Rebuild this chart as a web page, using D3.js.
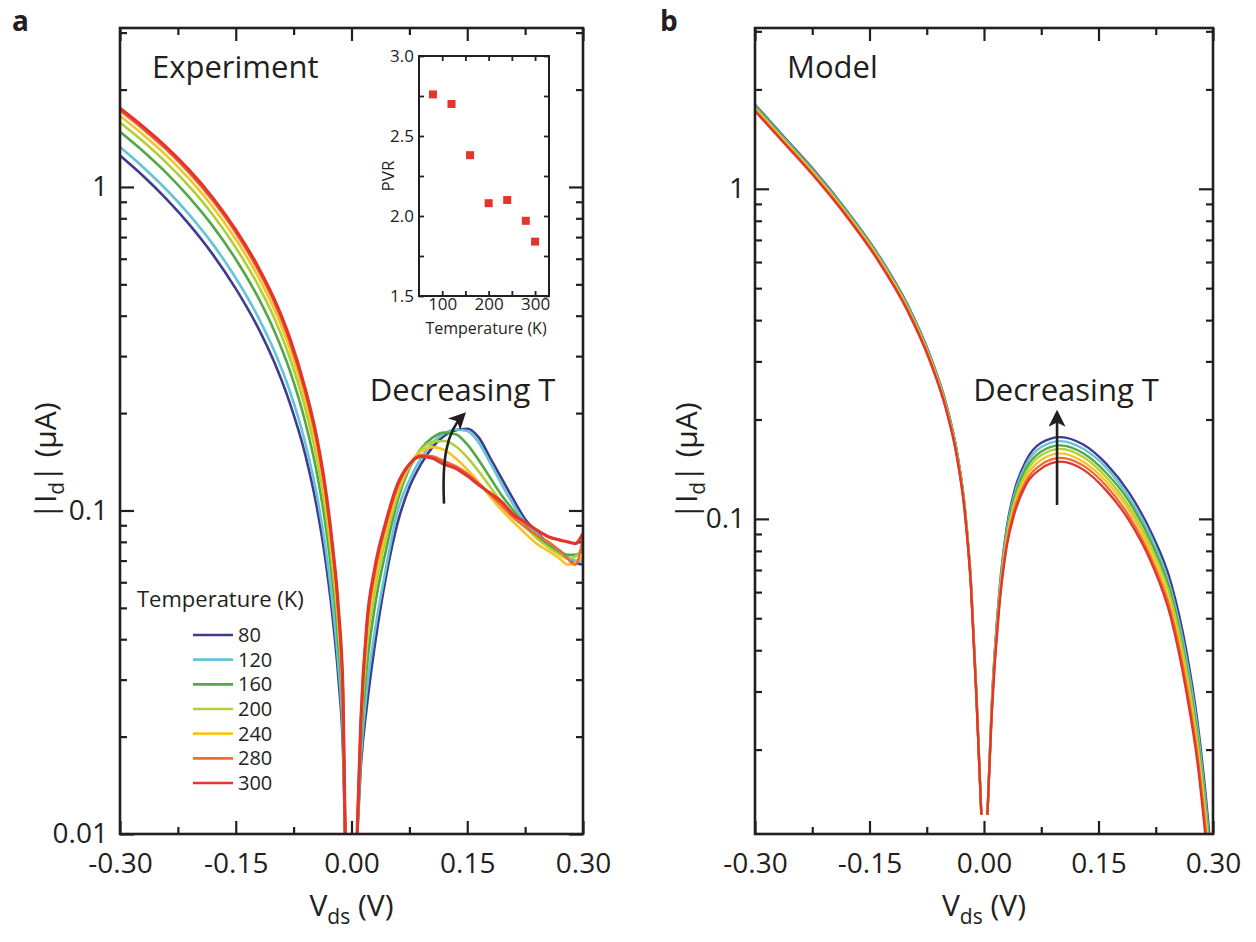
<!DOCTYPE html>
<html>
<head>
<meta charset="utf-8">
<script src="https://cdn.jsdelivr.net/npm/d3@7"></script>
<style>
    body { margin: 0; background: #fff; }
    svg text { font-family: "Open Sans", "Noto Sans", sans-serif; fill: #231f20; }
    .axis text { font-family: "Open Sans", "Noto Sans", sans-serif; font-size: 28px; fill: #231f20; }
    .axis line { stroke: #231f20; stroke-width: 2.2; }
    .inset .axis text { font-size: 17px; }
    .inset .axis line { stroke-width: 1.8; }
</style>
</head>
<body>
<svg id="chart" width="1256" height="942"></svg>
<script>
const temperatures = [80, 120, 160, 200, 240, 280, 300];
const tempColors = ['#3d3c92', '#66c4d6', '#52a845', '#afd136', '#f6c51f', '#f06a36', '#e3352b'];

// panel a (experiment), |Id| in uA, Vds < 0 branch
const expVLeft = [-0.30, -0.27, -0.24, -0.21, -0.18, -0.15, -0.12, -0.10, -0.08, -0.06, -0.045, -0.034, -0.025, -0.017, -0.011, -0.008];
const expILeft = [
    [1.25, 1.081, 0.919, 0.765, 0.62, 0.485, 0.363, 0.287, 0.215, 0.149, 0.1025, 0.071, 0.048, 0.0303, 0.0179, 0.0095],
    [1.328, 1.151, 0.982, 0.82, 0.667, 0.523, 0.392, 0.311, 0.234, 0.162, 0.112, 0.0778, 0.0526, 0.0332, 0.0193, 0.0095],
    [1.48, 1.289, 1.105, 0.927, 0.758, 0.598, 0.451, 0.359, 0.271, 0.188, 0.131, 0.0915, 0.0618, 0.0389, 0.0221, 0.0095],
    [1.582, 1.382, 1.189, 1.002, 0.822, 0.65, 0.492, 0.393, 0.297, 0.207, 0.145, 0.1013, 0.0683, 0.043, 0.0241, 0.0095],
    [1.658, 1.451, 1.252, 1.057, 0.869, 0.689, 0.523, 0.418, 0.317, 0.221, 0.155, 0.1088, 0.0733, 0.0461, 0.0256, 0.0095],
    [1.721, 1.508, 1.304, 1.103, 0.908, 0.722, 0.548, 0.439, 0.333, 0.232, 0.164, 0.115, 0.0775, 0.0488, 0.0268, 0.0095],
    [1.75, 1.535, 1.328, 1.125, 0.927, 0.737, 0.56, 0.449, 0.341, 0.238, 0.168, 0.118, 0.0795, 0.05, 0.0274, 0.0095]
];

// panel a, Vds > 0 branch
const expVRight = [0.007, 0.012, 0.02, 0.03, 0.045, 0.06, 0.075, 0.09, 0.105, 0.12, 0.135, 0.15, 0.165, 0.18, 0.195, 0.21, 0.225, 0.24, 0.255, 0.27, 0.28, 0.29, 0.30];
const expIRight = [
    [0.0095, 0.016, 0.025, 0.038, 0.063, 0.092, 0.118, 0.139, 0.157, 0.17, 0.177, 0.179, 0.168, 0.145, 0.125, 0.108, 0.094, 0.086, 0.079, 0.075, 0.072, 0.069, 0.068],
    [0.0095, 0.017, 0.028, 0.042, 0.067, 0.10, 0.124, 0.145, 0.162, 0.173, 0.178, 0.176, 0.162, 0.14, 0.12, 0.104, 0.092, 0.085, 0.079, 0.075, 0.072, 0.07, 0.07],
    [0.0095, 0.019, 0.033, 0.05, 0.076, 0.108, 0.135, 0.155, 0.168, 0.174, 0.172, 0.16, 0.143, 0.126, 0.111, 0.10, 0.09, 0.083, 0.078, 0.074, 0.073, 0.073, 0.075],
    [0.0095, 0.02, 0.038, 0.056, 0.083, 0.112, 0.137, 0.154, 0.163, 0.164, 0.158, 0.146, 0.132, 0.118, 0.106, 0.097, 0.089, 0.082, 0.077, 0.073, 0.071, 0.072, 0.077],
    [0.0095, 0.021, 0.041, 0.06, 0.087, 0.115, 0.138, 0.152, 0.157, 0.154, 0.145, 0.134, 0.122, 0.11, 0.10, 0.092, 0.085, 0.079, 0.075, 0.071, 0.068, 0.069, 0.072],
    [0.0095, 0.022, 0.044, 0.064, 0.091, 0.119, 0.139, 0.148, 0.147, 0.142, 0.137, 0.13, 0.121, 0.112, 0.103, 0.095, 0.089, 0.084, 0.08, 0.075, 0.071, 0.068, 0.082],
    [0.0095, 0.022, 0.045, 0.066, 0.093, 0.121, 0.139, 0.147, 0.145, 0.139, 0.135, 0.128, 0.12, 0.113, 0.106, 0.097, 0.092, 0.087, 0.083, 0.081, 0.08, 0.079, 0.085]
];

// panel b (model)
const modVLeft = [-0.30, -0.26, -0.22, -0.18, -0.14, -0.10, -0.07, -0.05, -0.035, -0.025, -0.017, -0.01, -0.0035];
const modILeft = [
    [1.80, 1.42, 1.12, 0.86, 0.64, 0.445, 0.31, 0.225, 0.158, 0.108, 0.064, 0.030, 0.0127],
    [1.79, 1.41, 1.113, 0.855, 0.636, 0.442, 0.308, 0.2235, 0.157, 0.1073, 0.0636, 0.0298, 0.0127],
    [1.78, 1.40, 1.105, 0.849, 0.631, 0.439, 0.306, 0.222, 0.156, 0.1066, 0.0632, 0.0296, 0.0127],
    [1.76, 1.39, 1.097, 0.843, 0.627, 0.436, 0.304, 0.2205, 0.155, 0.1059, 0.0628, 0.0294, 0.0127],
    [1.75, 1.38, 1.089, 0.837, 0.622, 0.433, 0.302, 0.219, 0.154, 0.1052, 0.0624, 0.0292, 0.0127],
    [1.73, 1.37, 1.08, 0.83, 0.617, 0.429, 0.299, 0.217, 0.1525, 0.1043, 0.062, 0.029, 0.0127],
    [1.72, 1.36, 1.072, 0.824, 0.612, 0.426, 0.297, 0.2155, 0.1515, 0.1036, 0.0616, 0.0288, 0.0127]
];
const modVRight = [0.0045, 0.01, 0.02, 0.03, 0.04, 0.055, 0.075, 0.10, 0.13, 0.16, 0.19, 0.22, 0.245, 0.265, 0.28, 0.29, 0.30];
const modIRight = [
    [0.0127, 0.027, 0.060, 0.095, 0.122, 0.150, 0.170, 0.177, 0.168, 0.147, 0.120, 0.090, 0.064, 0.040, 0.024, 0.015, 0.0085],
    [0.0127, 0.0267, 0.059, 0.093, 0.119, 0.146, 0.165, 0.172, 0.163, 0.143, 0.116, 0.087, 0.061, 0.038, 0.023, 0.0142, 0.0081],
    [0.0127, 0.0264, 0.058, 0.091, 0.116, 0.142, 0.160, 0.167, 0.158, 0.138, 0.113, 0.084, 0.059, 0.036, 0.0217, 0.0135, 0.0078],
    [0.0127, 0.0261, 0.057, 0.089, 0.113, 0.138, 0.156, 0.163, 0.154, 0.134, 0.109, 0.081, 0.057, 0.035, 0.0208, 0.013, 0.0075],
    [0.0127, 0.0258, 0.056, 0.087, 0.110, 0.134, 0.151, 0.158, 0.149, 0.130, 0.106, 0.078, 0.054, 0.033, 0.0198, 0.0123, 0.0071],
    [0.0127, 0.0255, 0.055, 0.085, 0.107, 0.130, 0.146, 0.153, 0.145, 0.126, 0.102, 0.075, 0.052, 0.0315, 0.0189, 0.0117, 0.0068],
    [0.0127, 0.0252, 0.054, 0.083, 0.104, 0.127, 0.142, 0.149, 0.141, 0.122, 0.099, 0.073, 0.050, 0.030, 0.018, 0.011, 0.0065]
];

// inset: peak-to-valley ratio
const pvrTemps = [80, 120, 160, 200, 240, 280, 300];
const pvrValues = [2.76, 2.70, 2.38, 2.08, 2.10, 1.97, 1.84];

const xTicksMajor = [-0.30, -0.15, 0, 0.15, 0.30];
const xTicksMinor = [-0.225, -0.075, 0.075, 0.225];

const svg = d3.select('#chart');
const defs = svg.append('defs');
defs.append('marker')
    .attr('id', 'arrowHead')
    .attr('viewBox', '0 0 12 12')
    .attr('refX', 9).attr('refY', 6)
    .attr('markerUnits', 'userSpaceOnUse')
    .attr('markerWidth', 17).attr('markerHeight', 17)
    .attr('orient', 'auto')
    .append('path')
    .attr('d', 'M0,0 L12,6 L0,12 L3,6 Z')
    .attr('fill', '#231f20');

function fmtV(v) {
    return Math.abs(v) < 1e-9 ? '0.00' : v.toFixed(2);
}

function isDecade(v) {
    const l = Math.log10(v);
    return Math.abs(l - Math.round(l)) < 1e-6;
}

function logLabel(v) {
    return v >= 1 ? String(v) : v.toFixed(Math.round(-Math.log10(v)));
}

function drawPanel(cfg) {
    const x = d3.scaleLinear().domain([-0.3, 0.3]).range([cfg.left, cfg.right]);
    const y = d3.scaleLog().domain(cfg.yDomain).range([cfg.bottom, cfg.top]);
    const g = svg.append('g');

    g.append('clipPath').attr('id', cfg.id + 'clip')
        .append('rect')
        .attr('x', cfg.left).attr('y', cfg.top)
        .attr('width', cfg.right - cfg.left).attr('height', cfg.bottom - cfg.top);

    const yTicks = y.ticks().filter(v => v >= cfg.yDomain[0] && v <= cfg.yDomain[1]);
    const yMajor = yTicks.filter(isDecade);
    const yMinor = yTicks.filter(v => !isDecade(v));

    const addAxis = (axis, tx, ty) => {
        const a = g.append('g').attr('class', 'axis')
            .attr('transform', `translate(${tx},${ty})`)
            .call(axis.tickSizeOuter(0));
        a.select('.domain').remove();
        a.attr('font-family', null).attr('font-size', null);
        return a;
    };

    addAxis(d3.axisBottom(x).tickValues(xTicksMajor).tickSize(-13).tickPadding(19).tickFormat(fmtV), 0, cfg.bottom);
    addAxis(d3.axisBottom(x).tickValues(xTicksMinor).tickSize(-7).tickFormat(''), 0, cfg.bottom);
    addAxis(d3.axisTop(x).tickValues(xTicksMajor).tickSize(-13).tickFormat(''), 0, cfg.top);
    addAxis(d3.axisTop(x).tickValues(xTicksMinor).tickSize(-7).tickFormat(''), 0, cfg.top);
    addAxis(d3.axisLeft(y).tickValues(yMajor).tickSize(-14).tickPadding(cfg.yPad).tickFormat(logLabel), cfg.left, 0);
    addAxis(d3.axisLeft(y).tickValues(yMinor).tickSize(-7).tickFormat(''), cfg.left, 0);
    addAxis(d3.axisRight(y).tickValues(yMajor).tickSize(-14).tickFormat(''), cfg.right, 0);
    addAxis(d3.axisRight(y).tickValues(yMinor).tickSize(-7).tickFormat(''), cfg.right, 0);

    const line = d3.line()
        .x(d => x(d[0]))
        .y(d => y(d[1]))
        .curve(d3.curveMonotoneX);

    const curves = g.append('g').attr('clip-path', `url(#${cfg.id}clip)`);
    temperatures.forEach((t, i) => {
        [[cfg.vLeft, cfg.iLeft[i]], [cfg.vRight, cfg.iRight[i]]].forEach(([vs, is]) => {
            curves.append('path')
                .attr('d', line(vs.map((v, k) => [v, is[k]])))
                .attr('fill', 'none')
                .attr('stroke', tempColors[i])
                .attr('stroke-width', cfg.lineWidth(i))
                .attr('stroke-linejoin', 'round');
        });
    });

    g.append('rect')
        .attr('x', cfg.left).attr('y', cfg.top)
        .attr('width', cfg.right - cfg.left).attr('height', cfg.bottom - cfg.top)
        .attr('fill', 'none').attr('stroke', '#231f20').attr('stroke-width', 2.6);

    // panel letter and title
    svg.append('text').attr('x', cfg.letterX).attr('y', 31)
        .attr('font-size', 28).attr('font-weight', 'bold').text(cfg.letter);
    g.append('text').attr('x', cfg.left + 32).attr('y', 78)
        .attr('font-size', 31).text(cfg.title);

    // axis titles
    const xt = g.append('text').attr('x', (cfg.left + cfg.right) / 2).attr('y', 916)
        .attr('text-anchor', 'middle').attr('font-size', 30);
    xt.append('tspan').text('V');
    xt.append('tspan').attr('dy', 8).attr('font-size', 21).text('ds');
    xt.append('tspan').attr('dy', -8).text(' (V)');

    const yt = g.append('text')
        .attr('transform', `translate(${cfg.yTitleX},${(cfg.top + cfg.bottom) / 2 + 30}) rotate(-90)`)
        .attr('text-anchor', 'middle').attr('font-size', 30);
    yt.append('tspan').text('|I');
    yt.append('tspan').attr('dy', 8).attr('font-size', 21).text('d');
    yt.append('tspan').attr('dy', -8).text('| (\u03bcA)');

    // annotation
    g.append('text')
        .attr('x', x(cfg.noteV)).attr('y', y(cfg.noteI))
        .attr('text-anchor', 'middle').attr('font-size', 31)
        .text('Decreasing T');
    const ap = cfg.arrow.map(d => [x(d[0]), y(d[1])]);
    const arrowPath = ap.length === 4
        ? `M${ap[0]}C${ap[1]} ${ap[2]} ${ap[3]}`
        : `M${ap[0]}L${ap[1]}`;
    g.append('path')
        .attr('d', arrowPath)
        .attr('fill', 'none').attr('stroke', '#231f20').attr('stroke-width', 2.6)
        .attr('marker-end', 'url(#arrowHead)');

    return {x, y, g};
}

drawPanel({
    id: 'a', letter: 'a', letterX: 12, title: 'Experiment',
    left: 120, right: 583, top: 28, bottom: 834,
    yDomain: [0.01, 3.1], yPad: 12, yTitleX: 56,
    vLeft: expVLeft, iLeft: expILeft, vRight: expVRight, iRight: expIRight,
    lineWidth: i => i === 6 ? 3.2 : 2.6,
    noteV: 0.144, noteI: 0.218,
    arrow: [[0.1199, 0.105], [0.1173, 0.143], [0.1225, 0.174], [0.1445, 0.197]]
});

drawPanel({
    id: 'b', letter: 'b', letterX: 660, title: 'Model',
    left: 755, right: 1213, top: 28, bottom: 834,
    yDomain: [0.0111, 3.07], yPad: 10, yTitleX: 697,
    vLeft: modVLeft, iLeft: modILeft, vRight: modVRight, iRight: modIRight,
    lineWidth: i => 2.3,
    noteV: 0.1075, noteI: 0.228,
    arrow: [[0.0957, 0.1102], [0.0957, 0.208]]
});

// legend
const legend = svg.append('g');
legend.append('text').attr('x', 137).attr('y', 607).attr('font-size', 22).text('Temperature (K)');
const legendY = d3.scaleLinear().domain([0, temperatures.length - 1]).range([635, 783]);
temperatures.forEach((t, i) => {
    legend.append('line')
        .attr('x1', 193).attr('x2', 233)
        .attr('y1', legendY(i)).attr('y2', legendY(i))
        .attr('stroke', tempColors[i]).attr('stroke-width', 2.6);
    legend.append('text')
        .attr('x', 238).attr('y', legendY(i) + 7)
        .attr('font-size', 20).text(t);
});

// inset
const inset = svg.append('g').attr('class', 'inset');
const ix = d3.scaleLinear().domain([50, 330]).range([419, 549]);
const iy = d3.scaleLinear().domain([1.5, 3.0]).range([296, 56]);
inset.append('rect').attr('x', 419).attr('y', 56).attr('width', 130).attr('height', 240).attr('fill', '#fff');

const insetAxis = (axis, tx, ty) => {
    const a = inset.append('g').attr('class', 'axis')
        .attr('transform', `translate(${tx},${ty})`)
        .call(axis.tickSizeOuter(0));
    a.select('.domain').remove();
    a.attr('font-family', null).attr('font-size', null);
};
const ixTicks = [100, 150, 200, 250, 300];
const iyTicks = [1.5, 1.75, 2.0, 2.25, 2.5, 2.75, 3.0];
insetAxis(d3.axisBottom(ix).tickValues(ixTicks).tickSize(-5).tickPadding(2)
    .tickFormat(v => v % 100 === 0 ? v : ''), 0, 296);
insetAxis(d3.axisTop(ix).tickValues(ixTicks).tickSize(-5).tickFormat(''), 0, 56);
insetAxis(d3.axisLeft(iy).tickValues(iyTicks).tickSize(-5).tickPadding(5)
    .tickFormat(v => (v * 2) % 1 === 0 ? v.toFixed(1) : ''), 419, 0);
insetAxis(d3.axisRight(iy).tickValues(iyTicks).tickSize(-5).tickFormat(''), 549, 0);

inset.selectAll('rect.pt')
    .data(pvrTemps)
    .enter().append('rect')
    .attr('class', 'pt')
    .attr('x', d => ix(d) - 4)
    .attr('y', (d, i) => iy(pvrValues[i]) - 4)
    .attr('width', 8).attr('height', 8)
    .attr('fill', '#e3352b');

inset.append('rect').attr('x', 419).attr('y', 56).attr('width', 130).attr('height', 240)
    .attr('fill', 'none').attr('stroke', '#231f20').attr('stroke-width', 2);
inset.append('text').attr('x', 486).attr('y', 334).attr('text-anchor', 'middle')
    .attr('font-size', 16).text('Temperature (K)');
inset.append('text').attr('transform', 'translate(394,176) rotate(-90)')
    .attr('text-anchor', 'middle').attr('font-size', 17).text('PVR');
</script>
</body>
</html>
